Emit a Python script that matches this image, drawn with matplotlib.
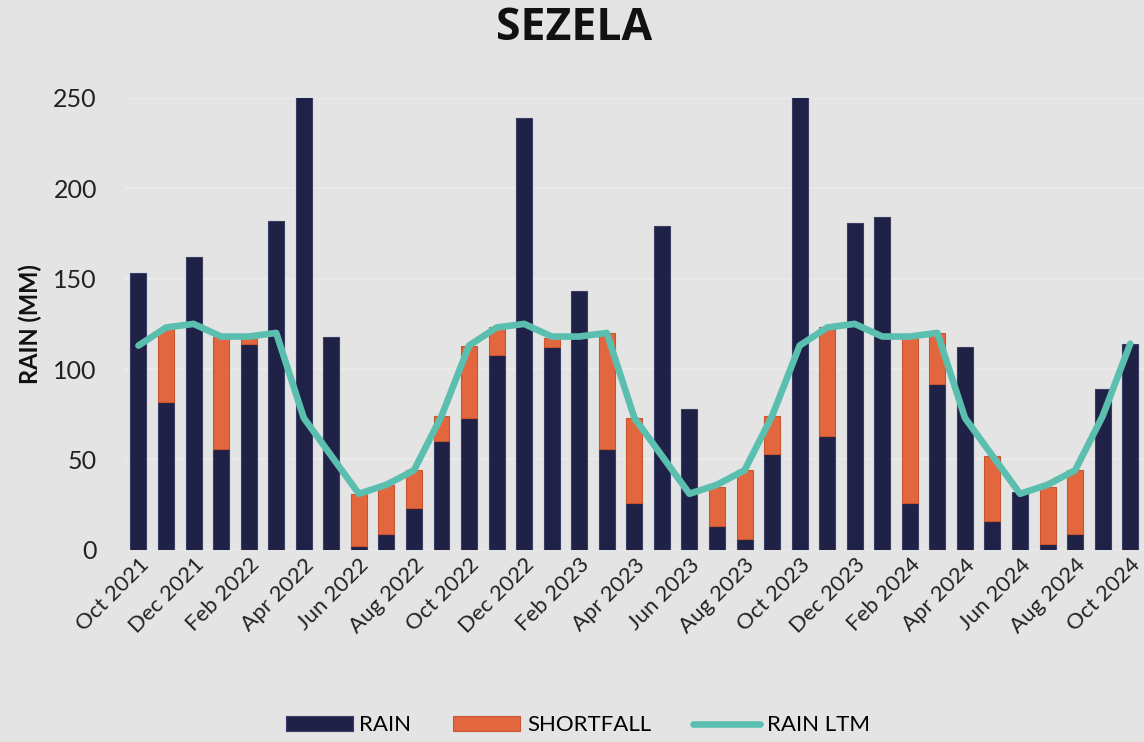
import matplotlib.pyplot as plt
import numpy as np

months = ['Oct 2021', 'Nov 2021', 'Dec 2021', 'Jan 2022', 'Feb 2022', 'Mar 2022',
          'Apr 2022', 'May 2022', 'Jun 2022', 'Jul 2022', 'Aug 2022', 'Sep 2022',
          'Oct 2022', 'Nov 2022', 'Dec 2022', 'Jan 2023', 'Feb 2023', 'Mar 2023',
          'Apr 2023', 'May 2023', 'Jun 2023', 'Jul 2023', 'Aug 2023', 'Sep 2023',
          'Oct 2023', 'Nov 2023', 'Dec 2023', 'Jan 2024', 'Feb 2024', 'Mar 2024',
          'Apr 2024', 'May 2024', 'Jun 2024', 'Jul 2024', 'Aug 2024', 'Sep 2024',
          'Oct 2024']

rain = [153, 82, 162, 56, 114, 182, 262, 118, 2, 9, 23, 60,
        73, 108, 239, 112, 143, 56, 26, 179, 78, 13, 6, 53,
        265, 63, 181, 184, 26, 92, 112, 16, 32, 3, 9, 89,
        114]

shortfall = [0, 40, 0, 62, 4, 0, 0, 0, 29, 27, 21, 14,
             40, 15, 0, 5, 0, 64, 47, 0, 0, 22, 38, 21,
             0, 60, 0, 0, 91, 28, 0, 36, 0, 32, 35, 0,
             0]

rain_ltm = [113, 123, 125, 118, 118, 120, 73, 52, 31, 36, 44, 74,
            113, 123, 125, 118, 118, 120, 73, 52, 31, 36, 44, 74,
            113, 123, 125, 118, 118, 120, 73, 52, 31, 36, 44, 74,
            114]

navy = '#1f2146'
orange = '#e2673f'
teal = '#5bbfb0'
bg = '#e4e4e4'

plt.rcParams['font.family'] = ['Lato', 'DejaVu Sans']

fig = plt.figure(figsize=(11.44, 7.42), dpi=100, facecolor=bg)
ax = fig.add_axes([0.109, 0.259, 0.891, 0.609], facecolor=bg)

x = np.arange(len(months))
sf = np.array(shortfall, dtype=float)
b1 = ax.bar(x, rain, width=0.58, color=navy, edgecolor='#3a3d66', linewidth=0.8,
            label='RAIN', zorder=2)
b2 = ax.bar(x[sf > 0], sf[sf > 0], width=0.58, bottom=np.array(rain)[sf > 0],
            color=orange, edgecolor='#c9552f', linewidth=0.8, label='SHORTFALL', zorder=2)
l1, = ax.plot(x, rain_ltm, color=teal, linewidth=4.8, solid_joinstyle='round',
              solid_capstyle='round', label='RAIN LTM', zorder=3)

ax.set_xlim(-0.5, len(months) - 0.5)
ax.set_ylim(0, 250)
ax.set_yticks([0, 50, 100, 150, 200, 250])
ax.yaxis.grid(True, color='#ececec', linewidth=1.2, zorder=0)
ax.set_axisbelow(True)
for s in ax.spines.values():
    s.set_visible(False)
ax.tick_params(axis='both', length=0, colors='#222222')
ax.tick_params(axis='y', labelsize=18, pad=20)
ax.tick_params(axis='x', labelsize=16)

ax.set_xticks(x[::2])
ax.set_xticklabels(months[::2], rotation=45, ha='right', rotation_mode='anchor')

ax.set_ylabel('RAIN (MM)', fontsize=17, fontweight='bold', color='#111111', labelpad=8)

fig.text(0.502, 0.962, 'SEZELA', ha='center', va='center', fontsize=32,
         fontweight='bold', color='#111111', family=['Open Sans', 'DejaVu Sans'])

fig.legend(handles=[b1, b2, l1], loc='lower center', bbox_to_anchor=(0.505, -0.018), ncol=3,
           frameon=False, fontsize=16, handlelength=3.0, columnspacing=1.9,
           handletextpad=0.3)

fig.savefig('out.png', dpi=100, facecolor=bg)
